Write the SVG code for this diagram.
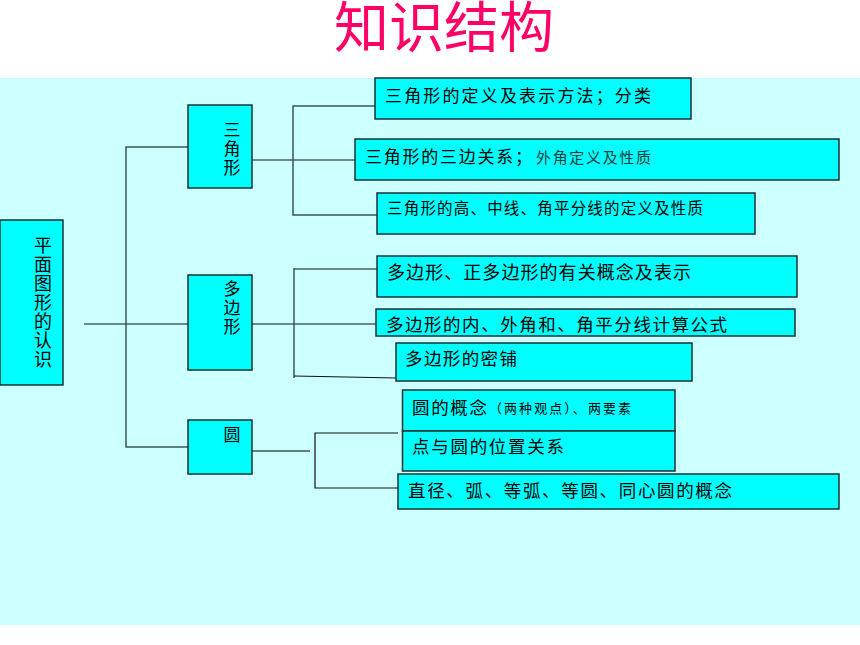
<svg xmlns="http://www.w3.org/2000/svg" width="860" height="645" viewBox="0 0 860 645">
<style>
.bg{fill:#CCFFFF}
.box{fill:#00FFFF;stroke:#1a3333;stroke-width:1.5}
.ln{fill:none;stroke:#3d5555;stroke-width:1.5}
.lk{fill:none;stroke:#111;stroke-width:1.2}
text{font-family:"Noto Sans CJK SC","Liberation Sans",sans-serif;fill:#000}
.v{writing-mode:vertical-rl;text-anchor:start}
.title{font-size:55px;fill:#FF0066;text-anchor:middle}
</style>
<rect x="0" y="0" width="860" height="645" fill="#FFFFFF"/>
<rect class="bg" x="0" y="78" width="860" height="547"/>
<text class="title" x="444" y="47">知识结构</text>

<g id="connectors">
  <polyline class="lk" points="84,324 188,324"/>
  <polyline class="ln" points="188,147 126,147 126,447 188,447"/>
  <polyline class="lk" points="252,160 355,160"/>
  <polyline class="ln" points="375,106 293,106 293,215 377,215"/>
  <polyline class="lk" points="252,324 377,324"/>
  <polyline class="lk" points="377,269 294,269"/>
  <polyline class="ln" points="294,268 294,378"/>
  <polyline class="lk" points="294,376 397,378"/>
  <polyline class="ln" points="247,451 310,451"/>
  <polyline class="lk" points="398,433 315,433 315,488 398,488"/>
</g>

<g id="root">
  <rect class="box" x="0" y="220" width="63" height="165"/>
  <text class="v" font-size="18" letter-spacing="1" x="43" y="236">平面图形的认识</text>
</g>

<g id="sanjiaoxing">
  <rect class="box" x="188" y="105" width="64" height="83"/>
  <text class="v" font-size="17" letter-spacing="2" x="232" y="121">三角形</text>
</g>

<g id="duobianxing">
  <rect class="box" x="188" y="275" width="64" height="95"/>
  <text class="v" font-size="17" letter-spacing="2" x="232" y="280">多边形</text>
</g>

<g id="yuan">
  <rect class="box" x="188" y="420" width="64" height="54"/>
  <text class="v" font-size="17" x="232" y="426">圆</text>
</g>

<g id="t1">
  <rect class="box" x="375" y="78" width="316" height="41"/>
  <text x="385" y="102" font-size="17" textLength="266" lengthAdjust="spacing">三角形的定义及表示方法；分类</text>
</g>
<g id="t2">
  <rect class="box" x="355" y="139" width="484" height="41"/>
  <text x="365" y="163" font-size="17" textLength="167" lengthAdjust="spacing">三角形的三边关系；</text>
  <text x="536" y="163" font-size="15" style="fill:#1e3c3c" textLength="115" lengthAdjust="spacing">外角定义及性质</text>
</g>
<g id="t3">
  <rect class="box" x="377" y="193" width="378" height="41"/>
  <text x="387" y="214" font-size="15.5" textLength="316" lengthAdjust="spacing">三角形的高、中线、角平分线的定义及性质</text>
</g>

<g id="d1">
  <rect class="box" x="377" y="256" width="420" height="41"/>
  <text x="387" y="279" font-size="18" textLength="304" lengthAdjust="spacing">多边形、正多边形的有关概念及表示</text>
</g>
<g id="d2">
  <rect class="box" x="376" y="309" width="419" height="27"/>
  <text x="386" y="331" font-size="17.5" textLength="341" lengthAdjust="spacing">多边形的内、外角和、角平分线计算公式</text>
</g>
<g id="d3">
  <rect class="box" x="396" y="343" width="296" height="38"/>
  <text x="405" y="365" font-size="17.5" textLength="112" lengthAdjust="spacing">多边形的密铺</text>
</g>

<g id="y1">
  <rect class="box" x="402.5" y="390" width="272.5" height="41"/>
  <text x="412" y="414" font-size="17.5" textLength="75" lengthAdjust="spacing">圆的概念</text>
  <text x="489" y="413" font-size="13" textLength="142" lengthAdjust="spacing">（两种观点）、两要素</text>
</g>
<g id="y2">
  <rect class="box" x="402.5" y="431" width="272.5" height="40"/>
  <text x="412" y="453" font-size="17.5" textLength="152" lengthAdjust="spacing">点与圆的位置关系</text>
</g>
<g id="y3">
  <rect class="box" x="398" y="474" width="441" height="35"/>
  <text x="408" y="497" font-size="17.5" textLength="324" lengthAdjust="spacing">直径、弧、等弧、等圆、同心圆的概念</text>
</g>
</svg>
